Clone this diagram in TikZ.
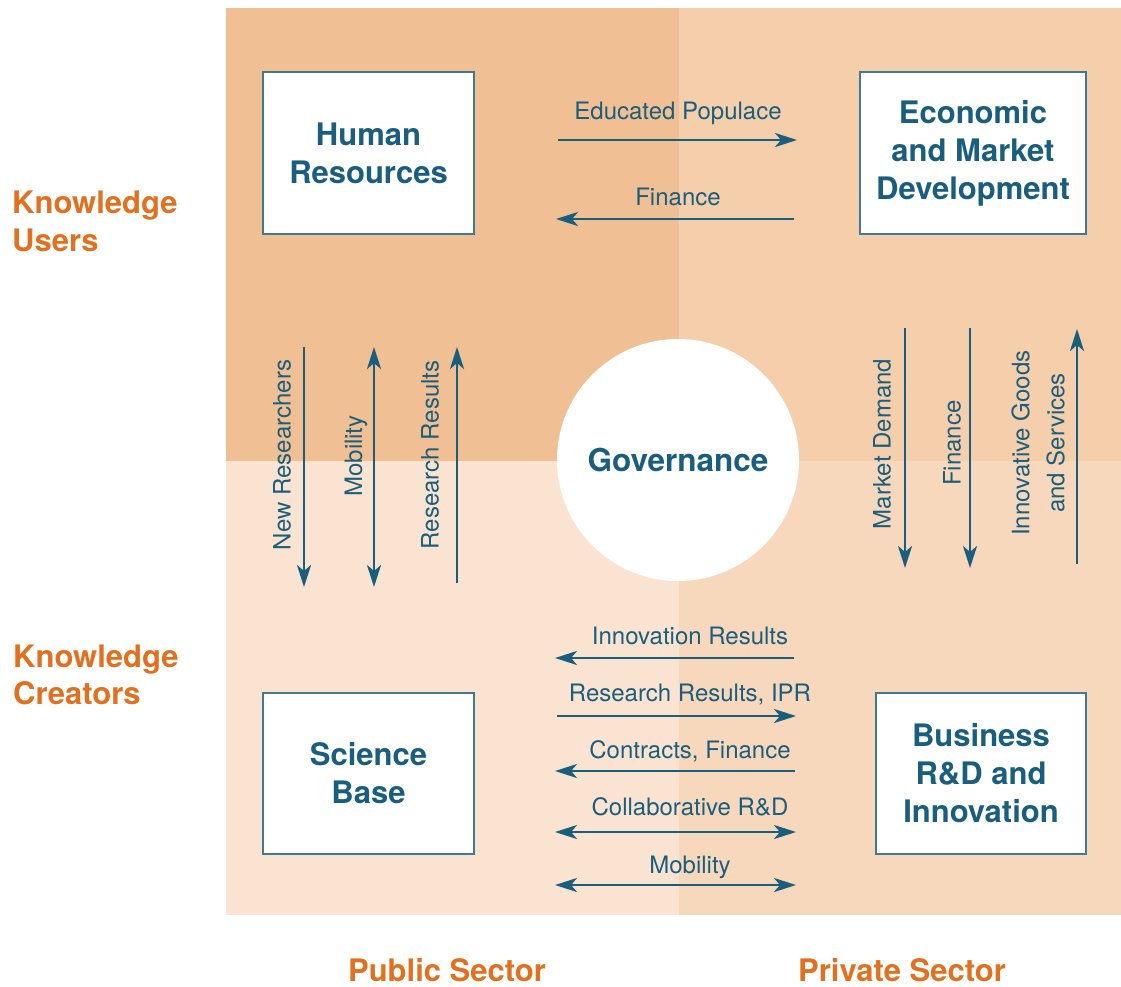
\documentclass[tikz,border=0pt]{standalone}
\usepackage{fontspec}
\setmainfont{TeX Gyre Heros}
\usetikzlibrary{arrows.meta}
\definecolor{ink}{HTML}{1A5E7D}
\definecolor{boxline}{HTML}{3E7A96}
\definecolor{qtl}{HTML}{F0BF93}
\definecolor{qtr}{HTML}{F5CEAB}
\definecolor{qbl}{HTML}{FBE3D1}
\definecolor{qbr}{HTML}{F8D8BD}
\definecolor{orng}{HTML}{E2701F}
\tikzset{
  tipA/.tip={Stealth[length=22pt,width=14pt,inset=6pt]},
  conn/.style={draw=ink, line width=2.6pt, -tipA},
  dconn/.style={draw=ink, line width=2.6pt, tipA-tipA},
  lbl/.style={text=ink, font=\fontsize{24}{29}\selectfont, inner sep=0pt},
  boxnode/.style={draw=boxline, line width=1.3pt, fill=white, text=ink, align=center,
    font=\fontsize{31}{38}\selectfont\bfseries, inner sep=0pt},
  side/.style={text=orng, font=\fontsize{31}{38}\selectfont\bfseries, inner sep=0pt, align=left}
}
\begin{document}
\begin{tikzpicture}[x=1pt,y=-1pt]
\useasboundingbox (0,0) rectangle (1121,986);
% quadrants
\fill[qtl] (226,8) rectangle (679,461);
\fill[qtr] (679,8) rectangle (1121,461);
\fill[qbl] (226,461) rectangle (679,915);
\fill[qbr] (679,461) rectangle (1121,915);

% boxes
\node[boxnode, minimum width=211pt, minimum height=162pt] (hr) at (368.5,153) {Human\\Resources};
\node[boxnode, minimum width=226pt, minimum height=162pt] (emd) at (973,153) {Economic\\and Market\\Development};
\node[boxnode, minimum width=211pt, minimum height=161pt] (sb) at (368.5,773.5) {Science\\Base};
\node[boxnode, minimum width=210pt, minimum height=161pt] (brd) at (981,773.5) {Business\\R\&D and\\Innovation};
\node[circle, fill=white, minimum size=242pt, inner sep=0pt, text=ink, font=\fontsize{31.5}{38}\selectfont\bfseries] (gov) at (678,460) {Governance};

% top arrows
\coordinate (ep1) at (558,140); \coordinate (ep2) at (797,140);
\draw[conn] (ep1) -- (ep2);
\node[lbl, anchor=base] (epl) at (678,119) {Educated Populace};
\coordinate (f1) at (794,219); \coordinate (f2) at (556,219);
\draw[conn] (f1) -- (f2);
\node[lbl, anchor=base] (fl) at (678,205) {Finance};

% left vertical arrows
\coordinate (nr1) at (304,347); \coordinate (nr2) at (304,587);
\draw[conn] (nr1) -- (nr2);
\node[lbl, rotate=90] (nrl) at (282,455) {New Researchers};
\coordinate (mo1) at (374,347); \coordinate (mo2) at (374,587);
\draw[dconn] (mo1) -- (mo2);
\node[lbl, rotate=90] (mol) at (356,456) {Mobility};
\coordinate (rr1) at (457,583); \coordinate (rr2) at (457,347);
\draw[conn] (rr1) -- (rr2);
\node[lbl, rotate=90] (rrl) at (430,455) {Research Results};

% right vertical arrows
\coordinate (md1) at (905,328); \coordinate (md2) at (905,568);
\draw[conn] (md1) -- (md2);
\node[lbl, rotate=90] (mdl) at (882,444) {Market Demand};
\coordinate (fi1) at (970,328); \coordinate (fi2) at (970,568);
\draw[conn] (fi1) -- (fi2);
\node[lbl, rotate=90] (fil) at (952,443) {Finance};
\coordinate (ig1) at (1077,564); \coordinate (ig2) at (1077,329);
\draw[conn] (ig1) -- (ig2);
\node[lbl, rotate=90, align=center, font=\fontsize{24}{35}\selectfont] (igl) at (1038,443) {Innovative Goods\\and Services};

% bottom arrows
\coordinate (ir1) at (794,658); \coordinate (ir2) at (555,658);
\draw[conn] (ir1) -- (ir2);
\node[lbl, anchor=base] (irl) at (690,644) {Innovation Results};
\coordinate (ri1) at (557,716); \coordinate (ri2) at (796,716);
\draw[conn] (ri1) -- (ri2);
\node[lbl, anchor=base] (ril) at (690,701) {Research Results, IPR};
\coordinate (cf1) at (795,771); \coordinate (cf2) at (555,771);
\draw[conn] (cf1) -- (cf2);
\node[lbl, anchor=base] (cfl) at (690,758) {Contracts, Finance};
\coordinate (cr1) at (555,832); \coordinate (cr2) at (796,832);
\draw[dconn] (cr1) -- (cr2);
\node[lbl, anchor=base] (crl) at (690,815) {Collaborative R\&D};
\coordinate (mb1) at (555,885); \coordinate (mb2) at (796,885);
\draw[dconn] (mb1) -- (mb2);
\node[lbl, anchor=base] (mbl) at (690,873) {Mobility};

% side labels
\node[side, anchor=base west] (ku1) at (12,213) {Knowledge};
\node[side, anchor=base west] (ku2) at (12,251) {Users};
\node[side, anchor=base west] (kc1) at (13,667) {Knowledge};
\node[side, anchor=base west] (kc2) at (13,704) {Creators};
\node[side, anchor=base] (pub) at (447,981) {Public Sector};
\node[side, anchor=base] (pri) at (902,981) {Private Sector};
\end{tikzpicture}
\end{document}
